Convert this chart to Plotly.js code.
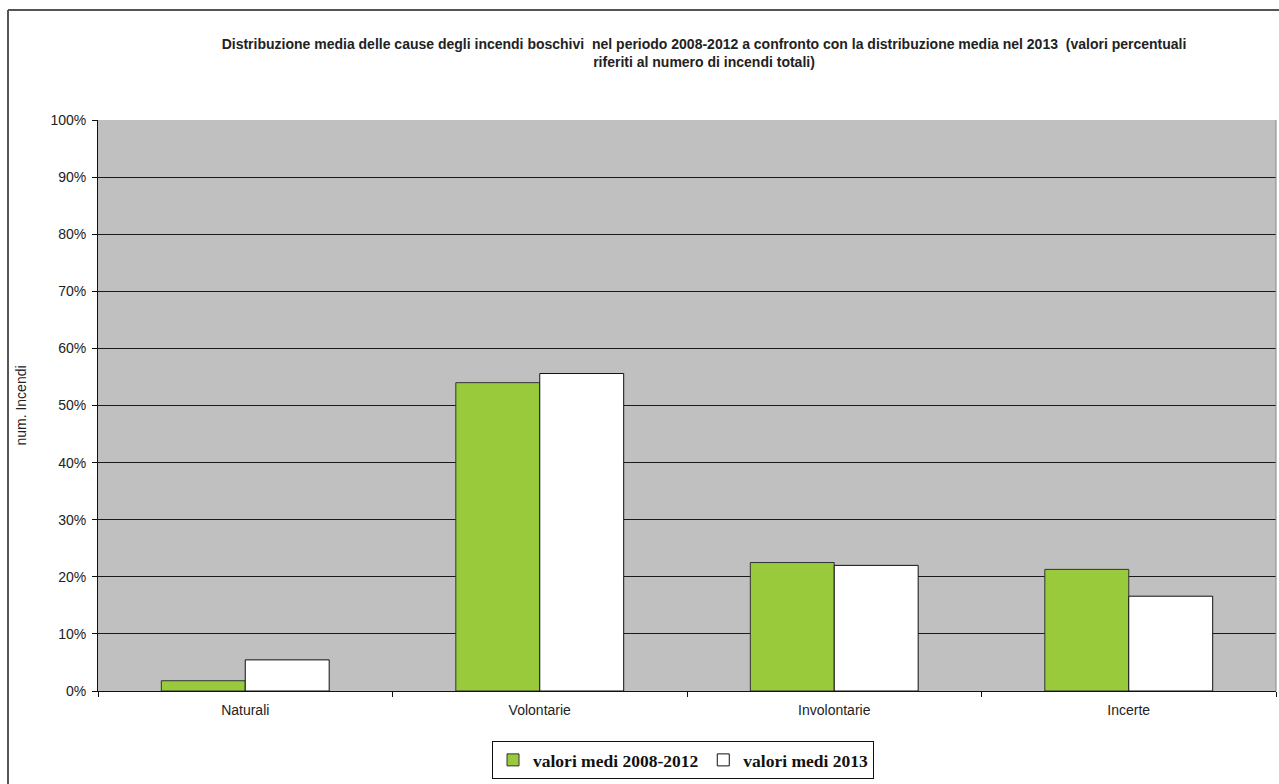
<!DOCTYPE html>
<html>
<head>
<meta charset="utf-8">
<script src="https://cdn.plot.ly/plotly-3.0.1.min.js"></script>
<style>html,body{margin:0;padding:0;background:#fff;}#chart{width:1279px;height:784px;}</style>
</head>
<body>
<div id="chart"></div>
<script>
const categories = ["Naturali", "Volontarie", "Involontarie", "Incerte"];
const media2008_2012 = [1.8, 54.0, 22.5, 21.3];
const media2013 = [5.45, 55.6, 22.0, 16.6];
const seriesNames = ["valori medi 2008-2012", "valori medi 2013"];
const yTickVals = [0, 10, 20, 30, 40, 50, 60, 70, 80, 90, 100];
const titleLines = ["Distribuzione media delle cause degli incendi boschivi  nel periodo 2008-2012 a confronto con la distribuzione media nel 2013  (valori percentuali", "riferiti al numero di incendi totali)"];
const yTitle = "num. Incendi";

const traces = [
  {type: 'bar', name: seriesNames[0], x: categories, y: media2008_2012,
   marker: {color: '#99ca3c', line: {color: '#333333', width: 1}}, hoverinfo: 'skip'},
  {type: 'bar', name: seriesNames[1], x: categories, y: media2013,
   marker: {color: '#ffffff', line: {color: '#111111', width: 1}}, hoverinfo: 'skip'}
];

const layout = {
  width: 1279, height: 784,
  margin: {l: 98, r: 3, t: 120, b: 93},
  paper_bgcolor: '#ffffff',
  plot_bgcolor: '#c0c0c0',
  barmode: 'group',
  bargap: 0.43,
  bargroupgap: 0,
  showlegend: true,
  font: {family: 'Liberation Sans, Arial, sans-serif', size: 14, color: '#222'},
  title: {
    text: titleLines.join('<br>'),
    font: {family: 'Liberation Sans, Arial, sans-serif', size: 14, color: '#222', weight: 'bold'},
    xref: 'container', x: 704 / 1279, xanchor: 'center',
    yref: 'container', y: 1 - 49/784, yanchor: 'top'
  },
  xaxis: {
    type: 'category',
    showgrid: false,
    showline: true, linecolor: '#111', linewidth: 1,
    ticks: 'outside', tickson: 'boundaries', ticklen: 5, tickcolor: '#111',
    ticklabelstandoff: 6,
    tickfont: {size: 14, color: '#222'},
    fixedrange: true
  },
  yaxis: {
    range: [0, 100],
    tickvals: yTickVals,
    ticktext: yTickVals.map(v => v + '%'),
    showgrid: true, gridcolor: '#1a1a1a', gridwidth: 1,
    showline: true, linecolor: '#111', linewidth: 1,
    ticks: 'outside', ticklen: 5, tickcolor: '#111',
    ticklabelstandoff: 3,
    tickfont: {size: 14, color: '#222'},
    zeroline: false,
    title: {text: yTitle, font: {size: 14, color: '#222'}, standoff: 20},
    fixedrange: true
  },
  legend: {
    orientation: 'h',
    x: (683 - 98) / 1178, xanchor: 'center',
    y: (691 - 741) / 571, yanchor: 'top',
    bgcolor: '#ffffff', bordercolor: '#111', borderwidth: 1,
    font: {family: 'Liberation Serif, Times New Roman, serif', size: 17.5, color: '#111', weight: 'bold'},
    itemwidth: 30,
    tracegroupgap: 0
  },
  shapes: [
    {type: 'line', xref: 'paper', yref: 'paper',
     x0: (8 - 98) / 1178, x1: (1285 - 98) / 1178,
     y0: (691 - 10) / 571, y1: (691 - 10) / 571,
     line: {color: '#555', width: 2}},
    {type: 'line', xref: 'paper', yref: 'paper',
     x0: (8 - 98) / 1178, x1: (8 - 98) / 1178,
     y0: (691 - 10) / 571, y1: (691 - 800) / 571,
     line: {color: '#555', width: 2}},
    {type: 'line', xref: 'paper', yref: 'paper',
     x0: 1, x1: 1, y0: 0, y1: 1,
     line: {color: '#888', width: 1}}
  ]
};

Plotly.newPlot('chart', traces, layout, {displayModeBar: false, staticPlot: true});
</script>
</body>
</html>
